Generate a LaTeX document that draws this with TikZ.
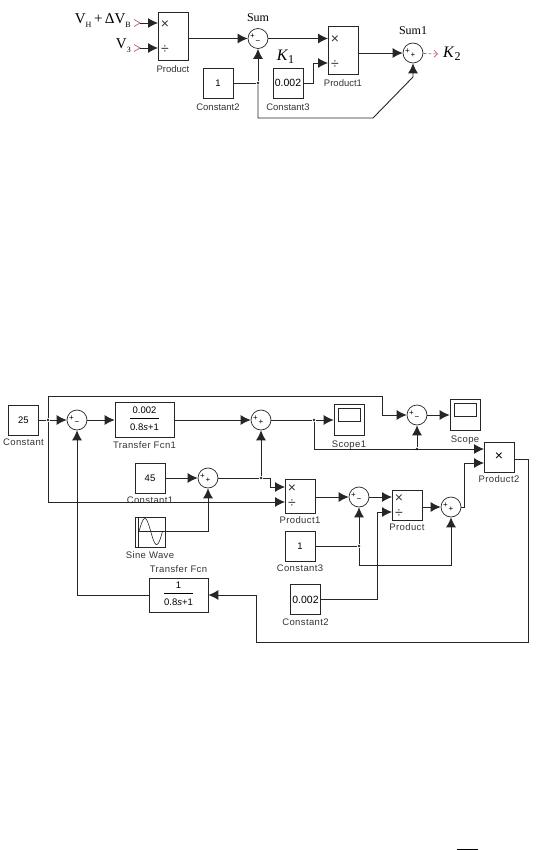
\documentclass[tikz,border=0pt]{standalone}
\usepackage{fontspec}
\usepackage{xcolor}
\setmainfont{Liberation Serif}
\setsansfont{Liberation Sans}
\newfontfamily\spacedsans[LetterSpace=4]{Liberation Sans}
\usetikzlibrary{arrows.meta, positioning, calc}
\definecolor{wireGray}{HTML}{262626}
\definecolor{portRed}{HTML}{B5606A}
\setlength{\arrayrulewidth}{0.7pt}
\newcommand{\sumsigns}[1]{\makebox[0pt]{\raisebox{1pt}{\hspace*{-11pt}+}}\makebox[0pt]{\raisebox{-3.5pt}{#1}}}
\newcommand{\fcnfrac}[2]{\begin{tabular}{@{}c@{}}#1\\[1pt]\hline\rule{0pt}{12.5pt}#2\end{tabular}}

\begin{document}
\begin{tikzpicture}[
    x=1pt, y=-1pt,
    box/.style={draw=wireGray, line width=0.7pt, inner sep=0pt, align=center, font=\sffamily\fontsize{9.5}{11}\selectfont},
    constbox/.style={box, minimum width=30pt, minimum height=30pt},
    prodbox/.style={box, minimum width=30pt, minimum height=48pt},
    fcnbox/.style={box, minimum width=59pt, minimum height=35pt},
    sumblk/.style={draw=wireGray, line width=0.7pt, circle, minimum size=20pt, inner sep=0pt, font=\sffamily\fontsize{8}{8}\selectfont},
    sig/.style={draw=wireGray, line width=0.9pt, -{Latex[length=10pt,width=10pt]}},
    wire/.style={draw=wireGray, line width=0.9pt},
    dotp/.style={circle, fill=wireGray, inner sep=0pt, minimum size=2.8pt},
    blockcap/.style={inner sep=0pt, text=black!80, font=\sffamily\fontsize{9.5}{11}\selectfont},
    blockcapb/.style={inner sep=0pt, text=black!80, font=\spacedsans\fontsize{9.5}{11}\selectfont},
    opsign/.style={inner sep=0pt, yshift=-1.5pt, text=black!80, font=\sffamily\fontsize{14}{14}\selectfont},
    sumname/.style={inner sep=0pt, font=\fontsize{12}{12}\selectfont},
    bigtxt/.style={inner sep=0pt, font=\fontsize{15}{15}\selectfont},
    portp/.style={draw=portRed, line width=0.7pt},
    screen/.style={draw=wireGray, line width=0.7pt, minimum width=22pt, minimum height=13pt, inner sep=0pt},
]
    \useasboundingbox (0,0) rectangle (536,850);

    % upper scheme
    \node[prodbox] (prod0) at (173,36) {};
    \node[opsign] (prod0x) at (165,23) {×};
    \node[opsign] (prod0d) at (165,48) {÷};
    \node[blockcap, below=5pt of prod0] (prod0cap) {Product};
    \node[sumblk] (sum0) at (258,38.5) {\sumsigns{−}};
    \node[sumname, above=6pt of sum0] (sum0cap) {Sum};
    \node[constbox] (const2) at (218,83) {1};
    \node[blockcap, below=5.5pt of const2] (const2cap) {Constant2};
    \node[constbox, font=\sffamily\fontsize{10.5}{11}\selectfont] (const3) at (288,83) {0.002};
    \node[blockcap, below=5.5pt of const3] (const3cap) {Constant3};
    \node[bigtxt, font=\fontsize{16}{16}\selectfont] (k1) at (285.5,57) {\textit{K}\raisebox{-3pt}{\fontsize{12}{12}\selectfont 1}};
    \node[prodbox] (prod1) at (343,50.5) {};
    \node[opsign] (prod1x) at (335,38) {×};
    \node[opsign] (prod1d) at (335,63) {÷};
    \node[blockcap, below=4.5pt of prod1] (prod1cap) {Product1};
    \node[sumblk] (sum1) at (413,53) {\sumsigns{+}};
    \node[sumname, above=8pt of sum1] (sum1cap) {Sum1};
    \node[bigtxt, anchor=west, inner sep=5pt, font=\fontsize{16}{16}\selectfont] (k2) at (438,54) {\textit{K}\raisebox{-3pt}{\fontsize{12}{12}\selectfont 2}};
    \node[bigtxt, anchor=east] (vh) at (131,21) {V\raisebox{-4pt}{\fontsize{8}{8}\selectfont Н}\,+\,ΔV\raisebox{-4pt}{\fontsize{8}{8}\selectfont В}};
    \node[bigtxt, anchor=east] (vz) at (131,46) {V\raisebox{-4pt}{\fontsize{8}{8}\selectfont З}};

    \coordinate (portA) at (140,23);
    \coordinate (portB) at (140,48);
    \coordinate (prod0a) at (158,23);
    \coordinate (prod0b) at (158,48);
    \coordinate (prod0o) at (188,38.5);
    \coordinate (prod1a) at (328,38.5);
    \coordinate (prod1b) at (328,63);
    \coordinate (prod1o) at (358,53);
    \node[dotp] (jct1) at (258,83) {};
    \coordinate (kink1) at (313,83);
    \coordinate (bend1) at (373,118);
    \coordinate (turn1) at (413,77);

    \draw[portp] ([shift={(-6,-3.5)}]portA) -- (portA) -- ([shift={(-6,3.5)}]portA);
    \draw[portp] ([shift={(-6,-3.5)}]portB) -- (portB) -- ([shift={(-6,3.5)}]portB);
    \draw[sig] (portA) -- (prod0a);
    \draw[sig] (portB) -- (prod0b);
    \draw[sig] (prod0o) -- (sum0);
    \draw[sig] (sum0) -- (prod1a);
    \draw[wire] (const2) -- (jct1);
    \draw[sig] (jct1) -- (sum0);
    \draw[sig] (const3) -- (kink1) |- (prod1b);
    \draw[sig] (prod1o) -- (sum1);
    \draw[sig] (jct1) |- (bend1) -- (turn1) -- (sum1);
    \draw[portp, densely dashed, -{Straight Barb[length=3.5pt,width=7pt]}] (sum1) -- (k2.west);

    % lower scheme
    \node[constbox] (const0) at (23.5,420) {25};
    \node[blockcapb, below=3.5pt of const0] (const0cap) {Constant};
    \node[sumblk] (sum2) at (77,420) {\sumsigns{−}};
    \node[fcnbox] (tf1) at (144.5,420) {\fcnfrac{0.002}{0.8\textit{s}+1}};
    \node[blockcapb, below=3.5pt of tf1] (tf1cap) {Transfer Fcn1};
    \node[sumblk] (sum3) at (261,420) {\sumsigns{+}};
    \node[constbox, minimum height=31pt] (scope1) at (349,420) {};
    \node[screen] (scope1s) at ([yshift=5pt]scope1.center) {};
    \node[blockcapb, below=4.5pt of scope1] (scope1cap) {Scope1};
    \node[sumblk] (sum4) at (417,415) {\sumsigns{−}};
    \node[constbox, minimum height=31pt] (scope0) at (465,415) {};
    \node[screen] (scope0s) at ([yshift=5pt]scope0.center) {};
    \node[blockcapb, below=4.5pt of scope0] (scope0cap) {Scope};
    \node[constbox, font=\sffamily\fontsize{14}{14}\selectfont] (prod2) at (499,457) {×};
    \node[blockcapb, below=3.5pt of prod2] (prod2cap) {Product2};
    \node[constbox] (const1) at (150,478) {45};
    \node[blockcapb, below=3.5pt of const1] (const1cap) {Constant1};
    \node[sumblk] (sum5) at (208,478) {\sumsigns{+}};
    \node[constbox, minimum height=34pt] (prod3) at (300,496) {};
    \node[opsign] (prod3x) at (292,487) {×};
    \node[opsign] (prod3d) at (292,502) {÷};
    \node[blockcapb, below=3.5pt of prod3] (prod3cap) {Product1};
    \node[sumblk] (sum6) at (359,497) {\sumsigns{−}};
    \node[constbox] (prod4) at (407,505) {};
    \node[opsign] (prod4x) at (399,497) {×};
    \node[opsign] (prod4d) at (399,512) {÷};
    \node[blockcapb, below=3.5pt of prod4] (prod4cap) {Product};
    \node[sumblk] (sum7) at (451,507) {\sumsigns{+}};
    \node[constbox] (sine) at (150,532.5) {};
    \node[blockcapb, below=3.5pt of sine] (sinecap) {Sine Wave};
    \node[fcnbox, minimum height=34pt] (tf0) at (178.5,595) {\fcnfrac{1}{0.8\textit{s}+1}};
    \node[blockcapb, above=5pt of tf0] (tf0cap) {Transfer Fcn};
    \node[constbox] (const4) at (300,546) {1};
    \node[blockcapb, below=3.5pt of const4] (const4cap) {Constant3};
    \node[constbox, font=\sffamily\fontsize{10.5}{11}\selectfont] (const5) at (305.5,599.5) {0.002};
    \node[blockcapb, below=3.5pt of const5] (const5cap) {Constant2};

    % sine picture
    \draw[wire, line width=0.6pt] (138.5,518) -- (138.5,547);
    \draw[wire, line width=0.6pt] (137.5,531.5) -- (sine.east |- 0,531.5);
    \draw[wire, line width=0.6pt, smooth, domain=0:360, samples=40] plot ({139+23.5*\x/360}, {531.5-13*sin(\x)});

    \node[dotp] (jct2) at (48,420) {};
    \node[dotp] (jct3) at (314,420) {};
    \node[dotp] (jct4) at (417,449) {};
    \node[dotp] (jct5) at (261,478) {};
    \node[dotp] (jct6) at (359,546) {};
    \coordinate (busTop) at (382,396);
    \coordinate (prod2a) at (484,449);
    \coordinate (prod2b) at (484,463);
    \coordinate (prod2o) at (514,459);
    \coordinate (wireR) at (528,642);
    \coordinate (wireL) at (256,595);
    \coordinate (prod3a) at (285,487);
    \coordinate (prod3b) at (285,502);
    \coordinate (prod3k) at (270,478);
    \coordinate (prod3o) at (315,497);
    \coordinate (prod4a) at (392,497);
    \coordinate (prod4b) at (392,512);
    \coordinate (prod4o) at (422,507);
    \coordinate (kink2) at (464,507);
    \coordinate (kink3) at (377,599.5);
    \coordinate (lowWire) at (451,565);
    \coordinate (sineo) at (165,531.5);

    \draw[wire] (const0) -- (jct2);
    \draw[sig] (jct2) -- (sum2);
    \draw[sig] (sum2) -- (tf1);
    \draw[sig] (tf1) -- (sum3);
    \draw[wire] (sum3) -- (jct3);
    \draw[sig] (jct3) -- (scope1);
    \draw[sig] (jct2) |- (busTop) |- (sum4);
    \draw[sig] (jct2) |- (prod3b);
    \draw[sig] (sum4) -- (scope0);
    \draw[sig] (jct3) |- (prod2a);
    \draw[sig] (jct4) -- (sum4);
    \draw[sig] (const1) -- (sum5);
    \draw[sig] (sineo) -| (sum5);
    \draw[wire] (sum5) -- (jct5);
    \draw[sig] (jct5) -- (sum3);
    \draw[sig] (jct5) -- (prod3k) |- (prod3a);
    \draw[sig] (prod3o) -- (sum6);
    \draw[sig] (sum6) -- (prod4a);
    \draw[sig] (prod4o) -- (sum7);
    \draw[sig] (sum7) -- (kink2) |- (prod2b);
    \draw[wire] (const4) -- (jct6);
    \draw[sig] (jct6) -- (sum6);
    \draw[sig] (jct6) |- (lowWire) -- (sum7);
    \draw[sig] (const5) -- (kink3) |- (prod4b);
    \draw[sig] (prod2o) -| (wireR) -| (wireL) -- (tf0);
    \draw[sig] (tf0) -| (sum2);

    \draw[line width=1pt] (457,849) -- (478,849);
\end{tikzpicture}
\end{document}
